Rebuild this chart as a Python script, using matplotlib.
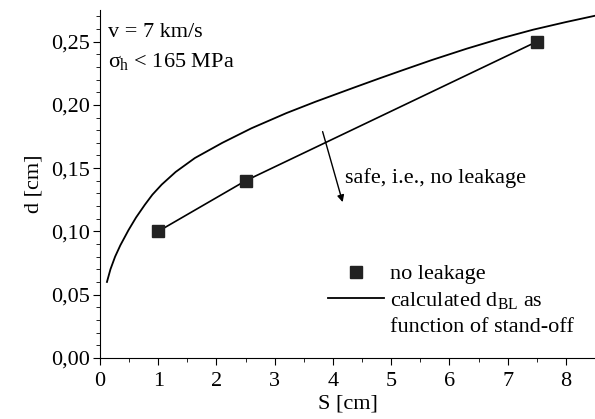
import numpy as np
import matplotlib.pyplot as plt
from matplotlib.lines import Line2D
from matplotlib.ticker import FuncFormatter, MultipleLocator

plt.rcParams['font.family'] = ['Liberation Serif', 'DejaVu Serif']
plt.rcParams['mathtext.fontset'] = 'custom'
plt.rcParams['mathtext.rm'] = 'Liberation Serif'
plt.rcParams['mathtext.it'] = 'Liberation Serif'

# measured points (no leakage)
s_meas = [1.0, 2.5, 7.5]
d_meas = [0.100, 0.140, 0.250]

# calculated d_BL vs stand-off
s_calc = [0.12, 0.18, 0.26, 0.35, 0.49, 0.62, 0.77, 0.9, 1.06, 1.3, 1.63, 2.1, 2.6,
          3.2, 3.7, 4.35, 4.8, 5.2, 5.7, 6.3, 6.9, 7.44, 8.0, 8.5]
d_calc = [0.060, 0.070, 0.080, 0.089, 0.101, 0.111, 0.121, 0.129, 0.137, 0.147, 0.158,
          0.170, 0.1815, 0.1935, 0.2025, 0.2135, 0.221, 0.2275, 0.2355, 0.2445, 0.2528,
          0.2595, 0.2655, 0.2705]

fig = plt.figure(figsize=(5.95, 4.19), dpi=100)
ax = fig.add_axes([0.168, 0.146, 0.832, 0.83])

calc_line, = ax.plot(s_calc, d_calc, color='black', lw=1.3)
ax.plot(s_meas, d_meas, color='black', lw=1.2)
meas_pts, = ax.plot(s_meas, d_meas, ls='none', marker='s', ms=9, color='#222222')

ax.set_xlim(0, 8.5)
ax.set_ylim(0, 0.275)
ax.xaxis.set_major_locator(MultipleLocator(1))
ax.xaxis.set_minor_locator(MultipleLocator(0.5))
ax.yaxis.set_major_locator(MultipleLocator(0.05))
ax.yaxis.set_minor_locator(MultipleLocator(0.01))
ax.yaxis.set_major_formatter(FuncFormatter(lambda v, p: f'{v:.2f}'.replace('.', ',')))
ax.tick_params(which='major', direction='out', length=5, labelsize=16, pad=2)
ax.tick_params(axis='x', which='major', pad=5)
ax.tick_params(which='minor', direction='out', length=3)
ax.spines['top'].set_visible(False)
ax.spines['right'].set_visible(False)

ax.set_xlabel('S [cm]', fontsize=16, labelpad=3)
ax.set_ylabel('d [cm]', fontsize=16, labelpad=6)

ax.text(0.14, 0.257, 'v = 7 km/s', fontsize=16, va='center')
ax.text(0.14, 0.234, '$\\sigma_{\\mathregular{h}}$ < 165 MPa', fontsize=16, va='center')

ax.annotate('', xy=(4.18, 0.121), xytext=(3.81, 0.181),
            arrowprops=dict(arrowstyle='-|>', color='black', lw=1.0, mutation_scale=10))
ax.text(4.21, 0.142, 'safe, i.e., no leakage', fontsize=16, va='center')

blank = Line2D([], [], color='none')
ax.legend([meas_pts, calc_line, blank],
          ['no leakage', 'calculated d$_{\\mathregular{BL}}$ as', 'function of stand-off'],
          loc='lower left', bbox_to_anchor=(0.461, 0.06), borderaxespad=0, borderpad=0,
          frameon=False, fontsize=16, handlelength=2.5, labelspacing=0.25, handletextpad=0.27)

fig.savefig('out.png', dpi=100)
